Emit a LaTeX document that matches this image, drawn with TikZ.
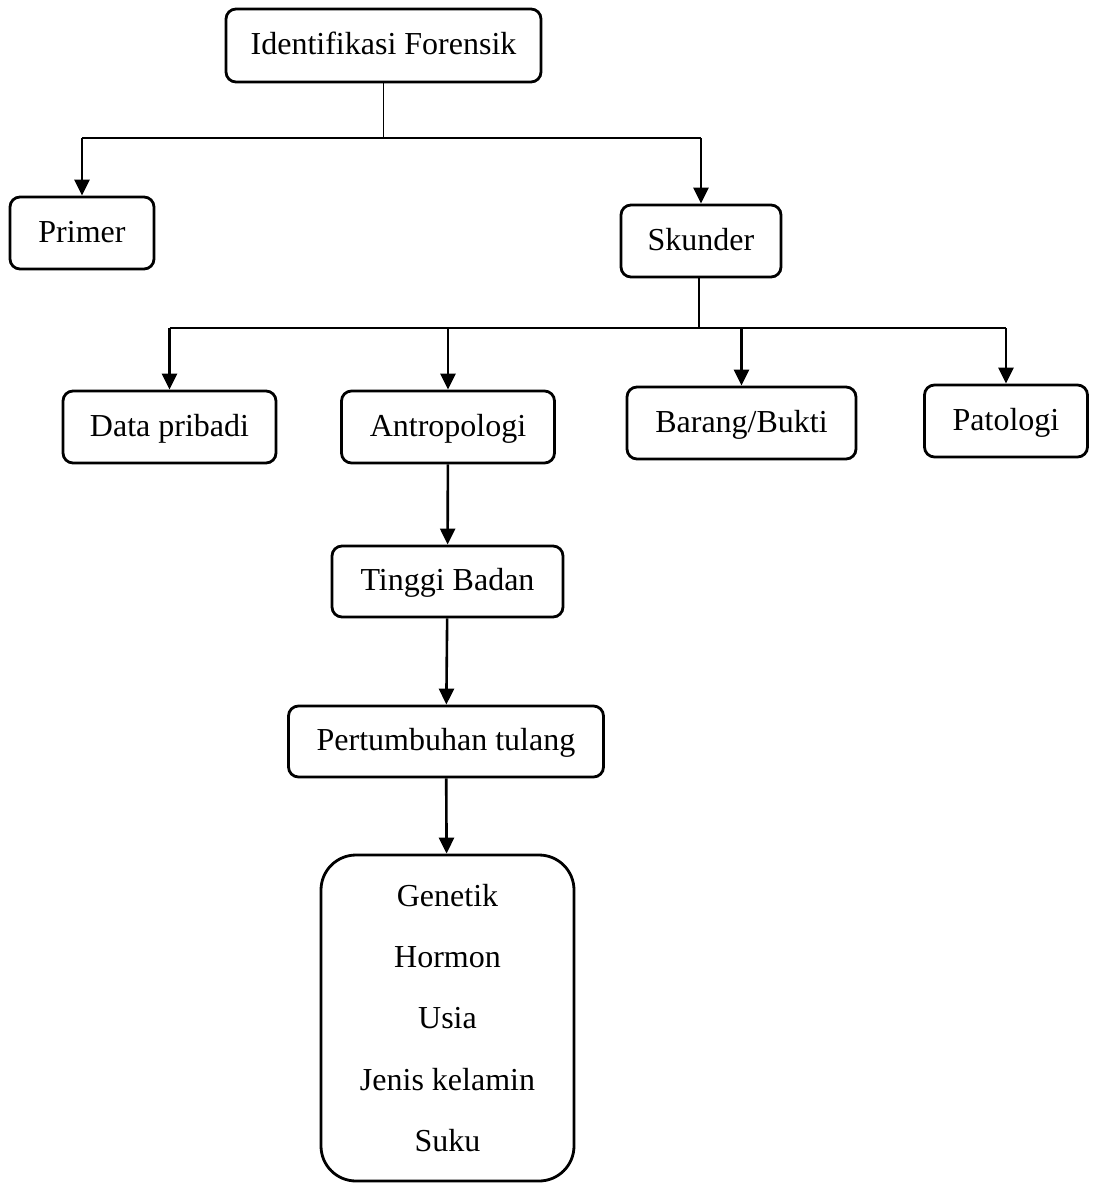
\documentclass[tikz,border=0pt]{standalone}
\usepackage{fontspec}
\setmainfont{Liberation Serif}
\usetikzlibrary{arrows.meta}

\tikzset{
	kotak/.style={draw, line width=2.8pt, rounded corners=10pt, inner sep=0pt, minimum height=72pt, text height=22pt, text depth=4pt},
	kotakbesar/.style={draw, line width=2.8pt, rounded corners=35pt, inner sep=0pt, align=center, font=\fontsize{32}{61.25}\selectfont},
	garis/.style={line width=1.5pt},
	panah/.style={line width=2.6pt, -{Triangle[length=16pt,width=15pt]}}
}

\begin{document}
\begin{tikzpicture}[x=1pt, y=-1pt, font=\fontsize{32}{38}\selectfont]
		\useasboundingbox (0,0) rectangle (1093,1183);
		\node[kotak, minimum width=315pt, minimum height=73pt] (ident) at (383.5,45.5) {Identifikasi Forensik};
		\node[kotak, minimum width=144pt] (primer) at (82,233) {Primer};
		\node[kotak, minimum width=160pt] (skunder) at (701,241) {Skunder};
		\node[kotak, minimum width=213pt] (data) at (169.5,427) {Data pribadi};
		\node[kotak, minimum width=213pt] (antro) at (448,427) {Antropologi};
		\node[kotak, minimum width=229pt] (barang) at (741.5,423) {Barang/Bukti};
		\node[kotak, minimum width=163pt] (patologi) at (1006,421) {Patologi};
		\node[kotak, minimum width=231pt, minimum height=71pt] (tinggi) at (447.5,581.5) {Tinggi Badan};
		\node[kotak, minimum width=315pt, minimum height=71pt] (tumbuh) at (446,741.5) {Pertumbuhan tulang};
		\node[kotakbesar, minimum width=253pt, minimum height=326pt] (faktor) at (447.5,1018) {Genetik\\Hormon\\Usia\\Jenis kelamin\\Suku};
		\coordinate (cabang1) at (383.5,138);
		\coordinate (cabang2) at (699,328);
		\draw[garis] (ident) -- (cabang1);
		\draw[garis] (primer |- cabang1) -- (skunder |- cabang1);
		\foreach \n in {primer,skunder}
			\draw[panah] (\n |- cabang1) -- (\n);
		\draw[garis] (skunder.south -| cabang2) -- (cabang2);
		\draw[garis] (data |- cabang2) -- (patologi |- cabang2);
		\foreach \n in {data,antro,barang,patologi}
			\draw[panah] (\n |- cabang2) -- (\n);
		\draw[panah] (antro) -- (tinggi);
		\draw[panah] (tinggi) -- (tumbuh);
		\draw[panah] (tumbuh) -- (faktor);
	\end{tikzpicture}
\end{document}
